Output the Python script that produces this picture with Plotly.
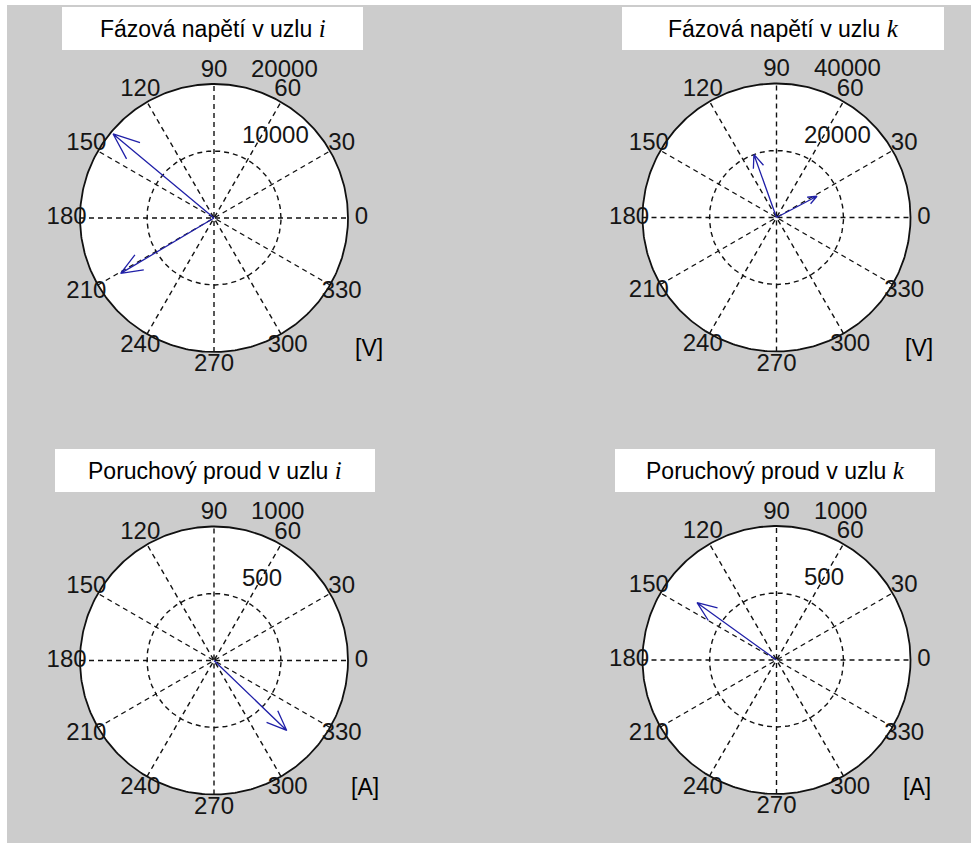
import numpy as np
import plotly.graph_objects as go

W, H = 971, 843

# ---------------- data ----------------
titles = ["Fázová napětí v uzlu", "Fázová napětí v uzlu",
          "Poruchový proud v uzlu", "Poruchový proud v uzlu"]
nodes = ["i", "k", "i", "k"]
units = ["[V]", "[V]", "[A]", "[A]"]

ui_mag = [19600, 16200]          # V
ui_ang = [140.2, 210.7]          # deg
uk_mag = [20000, 13650]          # V
uk_ang = [109.7, 27.7]           # deg
ii_mag = [753]                   # A
ii_ang = [316.1]                 # deg
ik_mag = [731]                   # A
ik_ang = [144.2]                 # deg

rticks_ui = [10000, 20000]
rticks_uk = [20000, 40000]
rticks_ii = [500, 1000]
rticks_ik = [500, 1000]
angle_ticks = list(range(0, 360, 30))

mags = [ui_mag, uk_mag, ii_mag, ik_mag]
angs = [ui_ang, uk_ang, ii_ang, ik_ang]
rticks = [rticks_ui, rticks_uk, rticks_ii, rticks_ik]

# ---------------- layout geometry (pixels) ----------------
centers = [(214, 218), (776.5, 217.5), (214, 660.5), (776.5, 660)]
R_PX = 134
HALF = 175
title_boxes = [(62, 7, 363, 50), (622, 7, 944, 50), (55, 449, 375, 492), (615, 449, 935, 492)]
unit_pos = [(369, 348), (919, 348), (365, 787), (917, 787)]

GRID = "#111111"
ARROW = "#2020a8"
TXT = "#151515"
FONT = "Liberation Sans, Arial, sans-serif"
TICK_SIZE = 24


def px(x):
    return x / W


def py(y):
    return 1 - y / H


fig = go.Figure()
layout = dict(
    width=W, height=H, margin=dict(l=0, r=0, t=0, b=0),
    paper_bgcolor="#cccccc", plot_bgcolor="rgba(0,0,0,0)",
    showlegend=False, shapes=[], annotations=[],
)

# white strips at left / top edge
layout["shapes"].append(dict(type="rect", xref="paper", yref="paper", x0=0, x1=px(7), y0=0, y1=1,
                             fillcolor="white", line=dict(width=0), layer="below"))
layout["shapes"].append(dict(type="rect", xref="paper", yref="paper", x0=0, x1=1, y0=py(5), y1=1,
                             fillcolor="white", line=dict(width=0), layer="below"))

theta_c = np.linspace(0, 2 * np.pi, 361)

for k in range(4):
    cx, cy = centers[k]
    rmax = rticks[k][-1]
    span = HALF * rmax / R_PX
    xa = "xaxis" if k == 0 else f"xaxis{k+1}"
    ya = "yaxis" if k == 0 else f"yaxis{k+1}"
    xr = "x" if k == 0 else f"x{k+1}"
    yr = "y" if k == 0 else f"y{k+1}"
    layout[xa] = dict(domain=[px(cx - HALF), px(cx + HALF)], range=[-span, span],
                      visible=False, anchor=yr, fixedrange=True)
    layout[ya] = dict(domain=[py(cy + HALF), py(cy - HALF)], range=[-span, span],
                      visible=False, anchor=xr, fixedrange=True)

    # white disc
    fig.add_trace(go.Scatter(x=rmax * np.cos(theta_c), y=rmax * np.sin(theta_c), mode="lines",
                             fill="toself", fillcolor="white", line=dict(width=0),
                             xaxis=xr, yaxis=yr, hoverinfo="skip"))
    # spokes (diameters)
    for a in angle_ticks[:6]:
        t = np.deg2rad(a)
        fig.add_trace(go.Scatter(x=[-rmax * np.cos(t), rmax * np.cos(t)],
                                 y=[-rmax * np.sin(t), rmax * np.sin(t)], mode="lines",
                                 line=dict(color=GRID, width=1.4, dash="5px,4px"),
                                 xaxis=xr, yaxis=yr, hoverinfo="skip"))
    # dashed inner circles
    for r in rticks[k][:-1]:
        fig.add_trace(go.Scatter(x=r * np.cos(theta_c), y=r * np.sin(theta_c), mode="lines",
                                 line=dict(color=GRID, width=1.4, dash="5px,4px"),
                                 xaxis=xr, yaxis=yr, hoverinfo="skip"))
    # outer circle
    fig.add_trace(go.Scatter(x=rmax * np.cos(theta_c), y=rmax * np.sin(theta_c), mode="lines",
                             line=dict(color=GRID, width=1.8),
                             xaxis=xr, yaxis=yr, hoverinfo="skip"))
    # angle labels
    at = np.deg2rad(angle_ticks)
    fig.add_trace(go.Scatter(x=1.1 * rmax * np.cos(at), y=1.1 * rmax * np.sin(at), mode="text",
                             text=[str(a) for a in angle_ticks], textposition="middle center",
                             textfont=dict(family=FONT, size=TICK_SIZE, color=TXT), cliponaxis=False,
                             xaxis=xr, yaxis=yr, hoverinfo="skip"))
    # radial labels at 82 deg
    rinc = rticks[k][0]
    c82, s82 = np.cos(np.deg2rad(82)), np.sin(np.deg2rad(82))
    for r in rticks[k]:
        layout["annotations"].append(dict(
            x=(r + rinc / 20) * c82, y=(r + rinc / 20) * s82, xref=xr, yref=yr,
            text=str(r), showarrow=False, xanchor="left", yanchor="bottom", xshift=16, yshift=-2,
            font=dict(family=FONT, size=TICK_SIZE, color=TXT)))
    # compass arrows
    for m, a in zip(mags[k], angs[k]):
        t = np.deg2rad(a)
        ca, sa = np.cos(t), np.sin(t)
        # MATLAB compass arrow: shaft + head at 0.8 length, +-0.08 length
        loc_x = np.array([0, 1, 0.8, 1, 0.8]) * m
        loc_y = np.array([0, 0, 0.08, 0, -0.08]) * m
        xs = loc_x * ca - loc_y * sa
        ys = loc_x * sa + loc_y * ca
        fig.add_trace(go.Scatter(x=xs, y=ys, mode="lines", line=dict(color=ARROW, width=1.3),
                                 xaxis=xr, yaxis=yr, hoverinfo="skip"))

    # title box
    x0, y0, x1, y1 = title_boxes[k]
    layout["shapes"].append(dict(type="rect", xref="paper", yref="paper", x0=px(x0), x1=px(x1),
                                 y0=py(y1), y1=py(y0), fillcolor="white", line=dict(width=0),
                                 layer="below"))
    layout["annotations"].append(dict(
        x=px((x0 + x1) / 2), y=py((y0 + y1) / 2), xref="paper", yref="paper",
        text=f"{titles[k]} <span style='font-family:Liberation Serif;font-size:25px'><i>{nodes[k]}</i></span>",
        showarrow=False, xanchor="center", yanchor="middle",
        font=dict(family=FONT, size=23, color="black")))
    # unit label
    ux, uy = unit_pos[k]
    layout["annotations"].append(dict(
        x=px(ux), y=py(uy), xref="paper", yref="paper", text=units[k], showarrow=False,
        xanchor="center", yanchor="middle", font=dict(family=FONT, size=23, color="black")))

fig.update_layout(**layout)
fig.write_html("out.html")
